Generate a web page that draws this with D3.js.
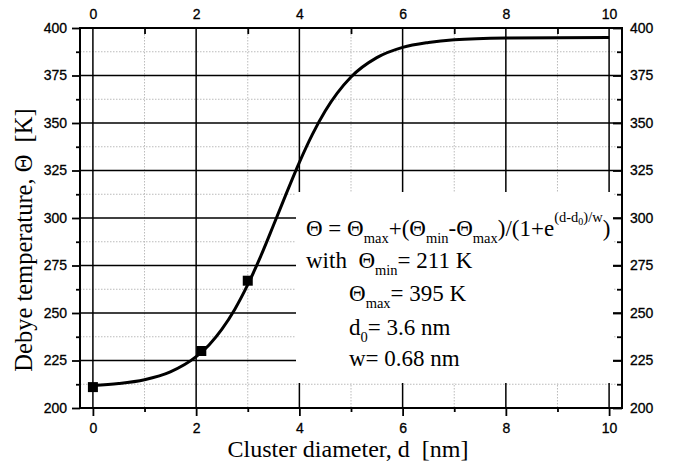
<!DOCTYPE html>
<html><head><meta charset="utf-8">
<script src="https://cdn.jsdelivr.net/npm/d3@7"></script>
<style>body{margin:0;background:#fff}svg{display:block}text{white-space:pre}</style>
</head><body>
<svg id="c" width="674" height="472"></svg>
<script>
// measured data points
const pointD = [0, 2.1, 3.0];
const pointT = [211, 230, 267];
// fitted curve
const curveD = [0, 0.5, 1, 1.5, 2, 2.25, 2.5, 2.75, 3, 3.25, 3.5, 3.75, 4, 4.25, 4.5, 5, 5.5, 6, 6.5, 7, 8, 9, 10];
const curveT = [211.9, 212.9, 214.9, 219.0, 227.0, 233.2, 241.5, 252.0, 264.9, 279.8, 296.3, 313.1, 329.3, 343.9, 356.3, 374.2, 384.4, 389.8, 392.4, 393.8, 394.7, 394.9, 395.0];
const xTicks = [0, 2, 4, 6, 8, 10];
const xMinor = [1, 3, 5, 7, 9];
const yTicks = [200, 225, 250, 275, 300, 325, 350, 375, 400];
const yMinor = [212.5, 237.5, 262.5, 287.5, 312.5, 337.5, 362.5, 387.5];

const svg = d3.select("#c");
const L = 80, R = 622, T = 28, B = 408;
const x = d3.scaleLinear().domain([-0.25, 10.25]).range([L, R]);
const y = d3.scaleLinear().domain([200, 400]).range([B, T]);
const sans = "'Liberation Sans', Arial, sans-serif";
const serif = "'Liberation Serif', 'Times New Roman', serif";

// minor grid
const g = svg.append("g");
g.selectAll(".mx").data(xMinor).join("line")
  .attr("x1", d => x(d)).attr("x2", d => x(d)).attr("y1", T).attr("y2", B)
  .attr("stroke", "#bbb").attr("stroke-width", 1).attr("stroke-dasharray", "1.5,1.5");
g.selectAll(".my").data(yMinor).join("line")
  .attr("y1", d => y(d)).attr("y2", d => y(d)).attr("x1", L).attr("x2", R)
  .attr("stroke", "#bbb").attr("stroke-width", 1).attr("stroke-dasharray", "1.5,1.5");
// major grid
g.selectAll(".gx").data(xTicks).join("line")
  .attr("x1", d => x(d)).attr("x2", d => x(d)).attr("y1", T).attr("y2", B)
  .attr("stroke", "#000").attr("stroke-width", 1.5);
g.selectAll(".gy").data(yTicks).join("line")
  .attr("y1", d => y(d)).attr("y2", d => y(d)).attr("x1", L).attr("x2", R)
  .attr("stroke", "#000").attr("stroke-width", 1.5);

// white annotation box
svg.append("rect").attr("x", 296).attr("y", 192).attr("width", 317).attr("height", 191).attr("fill", "#fff");

// axes
function axis(gen, tr, vals, size) {
  const a = svg.append("g").attr("transform", tr)
    .call(gen.tickValues(vals).tickSize(size).tickSizeOuter(0));
  a.select(".domain").remove();
  a.selectAll(".tick line").attr("stroke", "#000").attr("stroke-width", 1.8);
  a.selectAll("text").attr("font-family", sans).attr("font-size", 14).attr("fill", "#000")
    .attr("stroke", "#000").attr("stroke-width", 0.3);
  return a;
}
const fmt = d3.format("d");
// bottom
axis(d3.axisBottom(x).tickFormat(fmt).tickPadding(7), `translate(0,${B})`, xTicks, 8);
axis(d3.axisBottom(x).tickFormat(""), `translate(0,${B})`, xMinor, 4);
// top (inward ticks)
axis(d3.axisTop(x).tickFormat(fmt).tickPadding(9), `translate(0,${T})`, xTicks, 0);
axis(d3.axisTop(x).tickFormat(""), `translate(0,${T})`, xMinor, -6);
// left
axis(d3.axisLeft(y).tickFormat(fmt).tickPadding(5), `translate(${L},0)`, yTicks, 8);
axis(d3.axisLeft(y).tickFormat(""), `translate(${L},0)`, yMinor, 4);
// right (inward ticks)
const ra = axis(d3.axisRight(y).tickFormat(fmt), `translate(${R},0)`, yTicks, -9);
ra.selectAll("text").attr("x", 8);
axis(d3.axisRight(y).tickFormat(""), `translate(${R},0)`, yMinor, -5);

// frame
svg.append("rect").attr("x", L).attr("y", T).attr("width", R - L).attr("height", B - T)
  .attr("fill", "none").attr("stroke", "#000").attr("stroke-width", 2);

// curve
svg.append("path").datum(curveD.map((d, i) => [d, curveT[i]]))
  .attr("d", d3.line().x(d => x(d[0])).y(d => y(d[1])).curve(d3.curveMonotoneX))
  .attr("fill", "none").attr("stroke", "#000").attr("stroke-width", 3);

// points
svg.selectAll(".pt").data(pointD.map((d, i) => [d, pointT[i]])).join("rect")
  .attr("x", d => x(d[0]) - 5).attr("y", d => y(d[1]) - 5).attr("width", 10).attr("height", 10)
  .attr("fill", "#000");

// axis titles
svg.append("text").attr("x", 348).attr("y", 457).attr("text-anchor", "middle")
  .attr("font-family", serif).attr("font-size", 24).text("Cluster diameter, d  [nm]");
svg.append("text").attr("transform", `translate(32,${(T + B) / 2 + 22}) rotate(-90)`).attr("text-anchor", "middle")
  .attr("font-family", serif).attr("font-size", 24.5).text("Debye temperature, Θ  [K]");

// annotation text
const fs = 23, ss = 14.5;
function line(xp, yp, parts) {
  const t = svg.append("text").attr("x", xp).attr("y", yp).attr("font-family", serif).attr("font-size", fs);
  let cur = 0;
  parts.forEach(p => {
    const off = (p[2] || 0);
    t.append("tspan").attr("dy", off - cur).attr("font-size", p[1] || fs).text(p[0]);
    cur = off;
  });
  return t;
}
line(306, 236, [["Θ = Θ"], ["max", ss, 7], ["+(Θ", fs, 0], ["min", ss, 7], ["-Θ", fs, 0], ["max", ss, 7],
  [")/(1+e", fs, 0], ["(d-d", ss, -14], ["0", 10, -11], [")/w", ss, -14], [")", fs, 0]]);
line(306, 268, [["with  Θ"], ["min", ss, 7], ["= 211 K", fs, 0]]);
line(349, 301, [["Θ"], ["max", ss, 7], ["= 395 K", fs, 0]]);
line(349, 335, [["d"], ["0", ss, 7], ["= 3.6 nm", fs, 0]]);
line(349, 366, [["w= 0.68 nm"]]);
</script>
</body></html>
